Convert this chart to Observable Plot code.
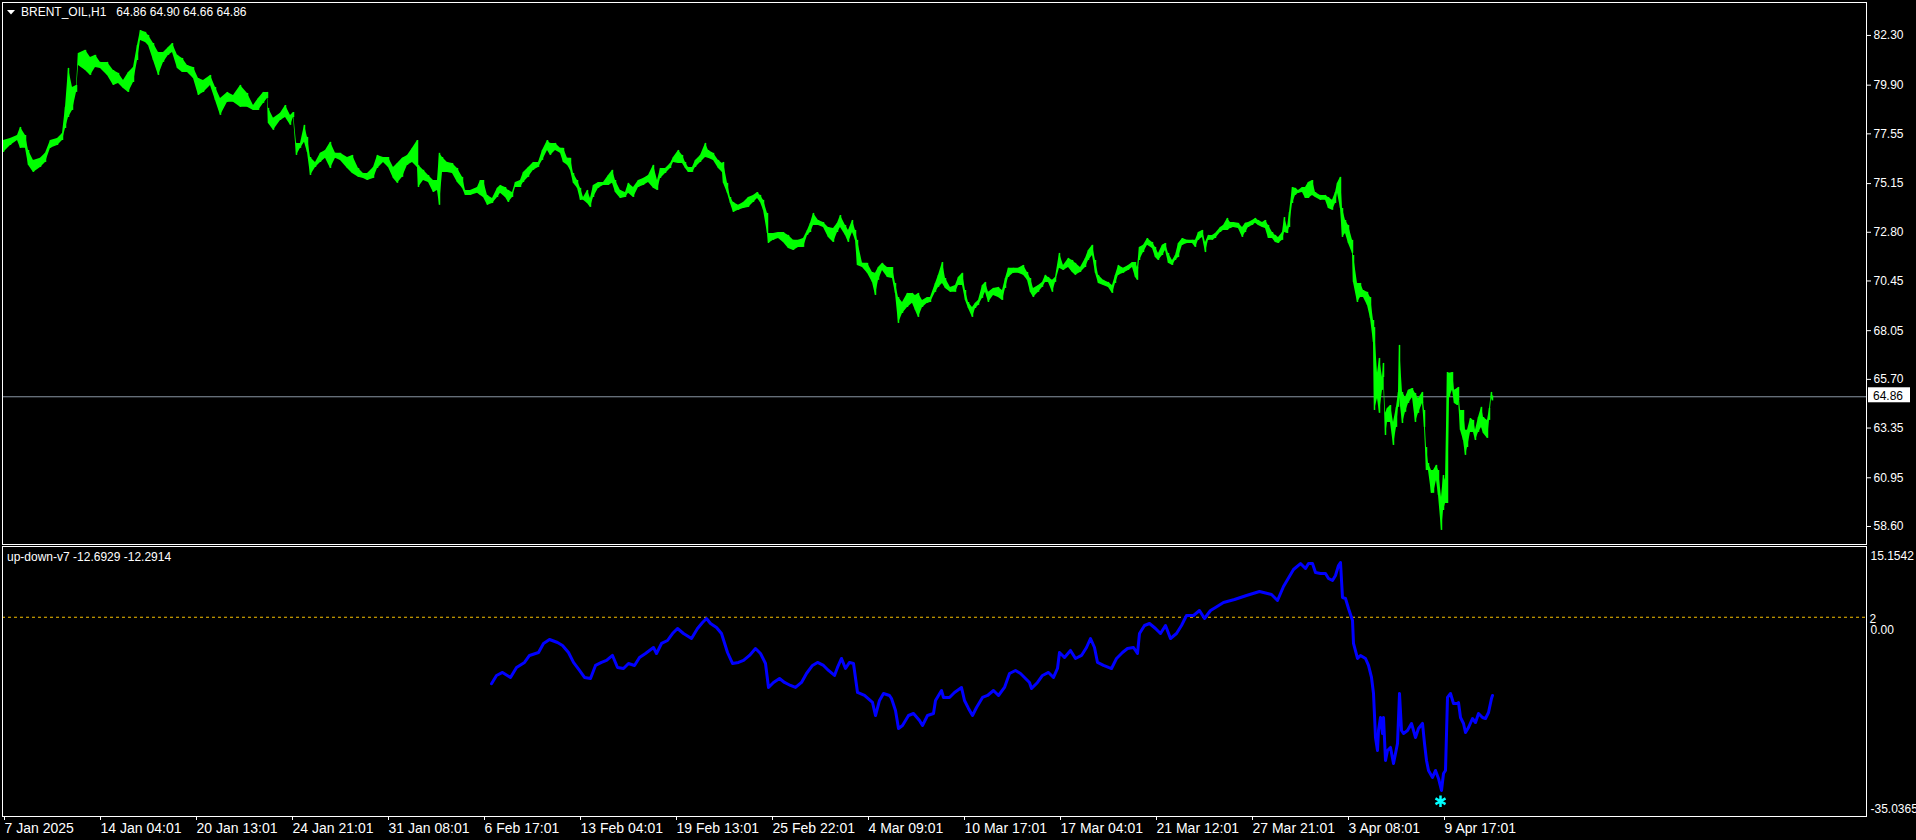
<!DOCTYPE html>
<html>
<head>
<meta charset="utf-8">
<script src="https://cdn.jsdelivr.net/npm/d3@7"></script>
<script src="https://cdn.jsdelivr.net/npm/@observablehq/plot@0.6"></script>
<style>
  html, body { margin: 0; padding: 0; background: #000; }
  #chart { position: relative; width: 1916px; height: 840px; background: #000; overflow: hidden; }
  #chart svg { display: block; }
</style>
</head>
<body>
<div id="chart"></div>
<script>
// ---------------- data ----------------
const symbolName = "BRENT_OIL";
const timeframe = "H1";
const lastOHLC = [64.86, 64.90, 64.66, 64.86];
const lastPrice = 64.86;

const priceTicks = [82.30, 79.90, 77.55, 75.15, 72.80, 70.45, 68.05, 65.70, 63.35, 60.95, 58.60];

const timeTickBars = [0, 96, 192, 288, 384, 480, 576, 672, 768, 864, 960, 1056, 1152, 1248, 1344, 1440];
const timeLabels = ["7 Jan 2025", "14 Jan 04:01", "20 Jan 13:01", "24 Jan 21:01", "31 Jan 08:01", "6 Feb 17:01",
  "13 Feb 04:01", "19 Feb 13:01", "25 Feb 22:01", "4 Mar 09:01", "10 Mar 17:01", "17 Mar 04:01",
  "21 Mar 12:01", "27 Mar 21:01", "3 Apr 08:01", "9 Apr 17:01"];

// hourly bar index, bar high, bar low (sampled along the chart)
const priceBar = [
  0,7,14,17,22,25,30,37,42,47,
  54,59,62,65,69,73,75,82,87,92,
  97,104,110,115,120,125,130,134,137,142,
  145,150,155,160,165,169,174,179,184,190,
  195,200,207,212,217,224,230,237,244,250,
  255,260,264,265,270,277,282,287,290,293,
  297,301,304,307,312,317,322,327,332,337,
  344,349,355,360,364,370,374,380,385,390,
  394,399,404,409,414,415,420,425,430,434,
  436,439,444,449,454,459,462,467,474,477,
  480,484,489,494,497,502,505,509,512,517,
  520,525,530,535,539,544,547,552,557,560,
  564,567,570,574,577,580,584,587,590,595,
  600,605,609,612,617,622,625,630,635,640,
  645,650,654,657,662,667,670,675,679,682,
  685,689,692,697,702,705,710,715,719,720,
  724,727,730,735,740,745,750,754,757,760,
  764,765,770,775,780,785,790,795,800,804,
  807,810,815,820,825,830,834,837,842,845,
  849,852,854,859,864,869,872,875,879,884,
  889,892,895,899,904,909,912,915,919,924,
  927,932,935,939,942,947,952,955,959,962,
  965,969,972,975,979,982,985,990,995,999,
  1002,1005,1010,1015,1020,1024,1027,1030,1035,1039,
  1042,1045,1049,1052,1056,1060,1065,1069,1072,1077,
  1082,1085,1089,1092,1095,1100,1105,1109,1112,1115,
  1120,1125,1129,1132,1134,1136,1140,1144,1149,1152,
  1155,1159,1162,1165,1169,1172,1175,1179,1184,1189,
  1192,1195,1199,1202,1205,1209,1212,1217,1220,1224,
  1227,1230,1235,1239,1242,1245,1249,1252,1255,1259,
  1262,1265,1269,1272,1275,1279,1281,1284,1286,1289,
  1292,1295,1299,1302,1305,1309,1312,1317,1322,1325,
  1329,1332,1334,1337,1339,1342,1345,1349,1350,1354,
  1357,1360,1364,1367,1370,1371,1374,1376,1379,1380,
  1382,1384,1387,1390,1393,1395,1396,1399,1402,1405,
  1409,1412,1415,1419,1421,1423,1425,1428,1430,1433,
  1435,1438,1440,1442,1444,1446,1449,1451,1454,1455,
  1457,1460,1462,1464,1467,1470,1472,1475,1478,1480,
  1484,1486,1488,1489
];
const priceHigh = [
  77.23,77.33,77.47,77.86,77.47,76.75,76.27,76.37,76.61,77.23,
  77.33,77.57,78.83,80.71,79.79,79.89,81.43,81.58,81.24,81.34,
  81.00,81.00,80.61,80.47,80.13,80.51,80.75,81.82,82.54,82.45,
  82.30,81.91,81.48,81.48,81.72,81.91,81.34,81.19,80.85,80.75,
  80.22,80.13,80.37,79.79,79.26,79.55,79.40,79.89,79.50,78.92,
  79.26,79.55,79.55,78.78,78.30,78.54,78.92,78.44,78.58,77.09,
  77.09,77.96,77.38,76.41,76.17,76.61,76.75,77.14,76.61,76.61,
  76.41,76.51,75.88,75.64,75.64,75.93,76.51,76.41,76.41,75.93,
  76.12,76.37,76.51,76.85,77.23,76.03,75.79,75.54,75.30,75.30,
  76.61,76.41,76.17,76.12,75.88,75.45,74.82,74.82,74.96,75.30,
  75.30,74.58,74.43,74.92,75.06,74.96,74.82,74.72,75.20,75.30,
  75.69,75.93,76.17,76.17,76.75,77.23,77.09,77.09,76.85,76.85,
  76.37,76.37,75.64,75.30,74.92,74.48,74.82,74.43,75.06,75.20,
  75.20,75.54,75.79,75.30,74.82,74.72,75.16,74.96,75.30,75.40,
  75.54,76.03,75.30,75.88,75.88,76.12,76.41,76.75,76.51,76.17,
  75.93,75.93,76.27,76.51,77.09,76.75,76.61,76.27,76.12,76.17,
  75.16,74.48,74.24,74.10,74.24,74.48,74.58,74.72,74.58,74.34,
  73.71,72.74,72.74,72.79,72.79,72.65,72.41,72.41,72.50,72.89,
  73.23,73.71,73.37,73.27,73.03,72.98,73.23,73.61,73.13,72.89,
  73.37,72.89,72.41,71.30,71.30,70.86,70.82,71.10,71.30,71.10,
  71.10,70.33,69.65,69.41,69.85,69.85,69.75,69.85,69.51,69.65,
  69.65,70.33,70.72,71.34,70.57,70.14,70.23,70.62,70.82,69.99,
  69.41,69.17,69.37,69.51,70.23,70.38,69.90,70.09,70.14,69.99,
  70.57,71.06,71.06,71.06,71.20,70.86,70.57,70.09,70.23,70.38,
  70.72,70.62,70.48,70.62,71.78,71.20,71.54,71.44,71.30,71.10,
  71.54,71.92,72.17,71.44,70.72,70.48,70.38,70.23,70.72,71.20,
  71.06,71.20,71.34,71.34,71.10,72.07,72.17,72.50,72.31,72.07,
  71.78,72.17,72.26,71.78,71.44,71.68,72.26,72.50,72.41,72.41,
  72.41,72.79,72.89,72.31,72.65,72.65,72.74,73.03,73.13,73.47,
  73.27,73.27,73.23,73.03,73.23,73.27,73.37,73.47,73.37,73.27,
  73.37,73.13,72.79,72.65,72.55,72.79,73.51,73.03,73.76,74.96,
  74.92,74.82,74.96,74.96,75.20,75.30,74.72,74.58,74.58,74.48,
  74.34,74.72,75.16,75.45,73.95,73.37,73.13,72.41,71.68,70.33,
  70.33,69.99,69.90,69.65,68.54,68.20,65.99,66.71,65.79,66.47,
  64.06,64.30,64.44,63.62,64.35,65.07,67.34,65.07,64.83,65.17,
  65.26,65.02,64.78,65.07,64.20,62.41,61.64,61.30,61.30,61.55,
  61.30,60.00,61.06,60.82,66.03,65.99,66.03,65.17,65.26,65.31,
  64.20,64.20,63.24,63.24,63.81,63.72,63.24,63.86,64.35,63.86,
  63.72,64.30,65.07,64.90
];
const priceLow = [
  76.65,76.99,77.23,76.85,76.85,76.03,75.69,75.93,76.17,76.85,
  76.99,77.23,77.81,78.34,78.68,79.55,80.85,80.61,80.37,80.75,
  80.71,80.37,79.89,79.98,79.74,79.55,80.03,81.09,82.06,81.96,
  81.82,81.09,80.37,81.00,81.34,81.48,80.71,80.51,80.51,80.22,
  79.40,79.55,79.89,79.16,78.44,79.07,79.07,78.83,78.83,78.68,
  78.68,79.02,79.26,78.05,77.72,78.20,78.34,77.96,78.34,76.51,
  76.85,77.14,76.65,75.54,75.93,76.17,76.37,75.88,76.37,76.27,
  75.88,75.64,75.45,75.40,75.30,75.40,75.88,76.17,75.93,75.40,
  75.16,75.45,76.03,76.17,75.93,74.96,75.30,75.20,74.72,74.82,
  74.10,75.69,75.69,75.64,75.20,74.92,74.58,74.58,74.68,74.58,
  74.48,74.10,74.19,74.48,74.68,74.48,74.24,74.48,74.96,74.96,
  75.20,75.45,75.79,75.93,76.27,76.75,76.51,76.75,76.61,76.17,
  76.03,75.79,75.16,74.92,74.34,74.34,74.19,74.00,74.48,74.92,
  75.06,75.06,75.16,74.72,74.43,74.48,74.68,74.48,74.96,75.06,
  75.20,74.92,74.82,75.40,75.64,75.88,76.17,76.12,76.12,75.88,
  75.69,75.69,75.93,76.17,76.41,76.37,76.27,75.88,75.69,75.16,
  74.68,74.19,73.76,73.86,73.95,74.00,74.24,74.43,74.24,73.86,
  72.74,72.26,72.41,72.50,72.31,72.02,71.92,72.07,72.07,72.65,
  72.79,73.13,73.13,73.03,72.55,72.31,72.79,73.03,72.65,72.31,
  72.79,72.41,71.20,71.10,70.82,70.38,69.75,70.48,70.96,70.62,
  70.57,69.85,68.40,68.88,69.17,69.37,69.03,68.69,69.17,69.37,
  69.41,69.90,70.14,70.33,70.09,69.90,69.90,70.23,70.23,69.51,
  69.12,68.69,69.12,69.27,69.61,69.90,69.41,69.75,69.65,69.51,
  70.09,70.62,70.82,70.82,70.72,70.48,69.90,69.65,69.90,70.14,
  70.38,70.38,69.90,70.38,71.06,70.96,71.10,70.86,70.72,70.86,
  71.10,71.44,71.68,70.82,70.33,70.23,70.14,69.85,70.33,70.72,
  70.82,70.96,71.10,70.62,70.48,71.44,71.82,72.17,72.02,71.58,
  71.44,71.68,71.92,71.30,71.20,71.44,71.58,72.17,72.26,72.26,
  72.07,72.41,72.55,71.82,72.41,72.41,72.50,72.79,72.89,72.89,
  72.98,73.03,72.98,72.55,72.79,73.03,73.13,73.23,73.13,73.03,
  72.98,72.50,72.50,72.31,72.26,72.41,72.79,72.74,73.03,74.19,
  74.58,74.68,74.72,74.43,74.43,74.58,74.48,74.34,74.34,73.95,
  73.86,74.19,74.68,73.95,72.55,72.74,72.26,71.78,70.38,69.41,
  69.65,69.65,69.27,68.64,67.48,64.20,64.78,64.06,65.17,65.79,
  62.99,63.62,63.62,62.51,63.38,64.35,64.83,63.57,64.11,64.54,
  64.83,63.62,64.06,64.54,63.38,61.30,61.30,60.20,60.20,60.82,
  60.10,58.41,59.37,59.71,59.71,64.83,65.17,64.54,64.44,64.68,
  63.24,62.75,62.03,62.41,63.14,63.14,62.75,63.14,63.38,63.09,
  62.85,63.72,64.78,64.66
];

// indicator "up-down-v7"
const indicatorName = "up-down-v7";
const indicatorLast = [-12.6929, -12.2914];
const indicatorRange = [-35.0365, 15.1542];
const indicatorLevel = 2;
const indBar = [
  488,493,499,507,513,521,526,535,540,546,
  554,559,565,570,576,581,587,592,598,603,
  609,614,620,625,631,636,642,650,653,658,
  664,669,674,680,688,694,699,703,707,713,
  718,724,729,735,740,746,752,757,762,765,
  770,776,781,787,792,798,803,809,814,820,
  825,831,834,838,842,846,850,854,861,869,
  872,876,880,886,888,892,895,899,905,910,
  916,919,924,930,932,938,940,946,951,958,
  961,965,969,973,979,984,990,995,1001,1006,
  1012,1017,1026,1028,1034,1039,1045,1050,1054,1056,
  1061,1067,1072,1078,1083,1087,1091,1094,1100,1105,
  1108,1113,1119,1124,1130,1134,1136,1141,1146,1152,
  1157,1162,1167,1173,1178,1183,1190,1196,1201,1207,
  1212,1220,1231,1243,1256,1268,1274,1280,1290,1297,
  1302,1305,1309,1312,1317,1322,1325,1329,1332,1335,
  1337,1339,1342,1345,1349,1350,1354,1357,1362,1365,
  1368,1370,1372,1374,1375,1377,1379,1380,1382,1384,
  1387,1390,1392,1394,1396,1398,1400,1404,1408,1412,
  1415,1419,1421,1423,1425,1429,1432,1435,1438,1440,
  1442,1444,1447,1450,1454,1455,1457,1460,1462,1465,
  1469,1472,1475,1479,1482,1485,1488,1489
];
const indValue = [
  -10.36,-8.82,-8.26,-9.19,-7.33,-6.40,-5.10,-4.55,-2.87,-2.13,
  -2.69,-3.25,-4.55,-6.40,-7.89,-9.19,-9.38,-6.96,-6.40,-6.03,
  -5.10,-7.33,-7.52,-6.59,-6.96,-5.48,-4.73,-3.62,-4.73,-2.87,
  -2.32,-1.02,-0.09,-1.02,-1.95,-0.09,1.03,1.77,0.84,0.10,
  -1.02,-4.55,-6.59,-6.40,-6.03,-5.10,-3.81,-4.73,-6.59,-11.05,
  -10.12,-9.38,-10.12,-10.68,-11.05,-10.12,-8.45,-6.96,-6.40,-6.96,
  -7.89,-8.82,-7.33,-5.66,-7.52,-6.40,-6.59,-11.98,-12.54,-13.84,
  -16.26,-13.47,-12.17,-12.54,-13.10,-15.33,-18.67,-18.12,-16.26,-15.89,
  -17.19,-18.12,-16.26,-15.89,-13.47,-11.61,-12.91,-12.91,-11.98,-11.05,
  -13.47,-14.95,-16.26,-14.77,-12.91,-12.54,-11.61,-12.54,-11.05,-8.45,
  -7.89,-8.45,-10.12,-11.24,-10.12,-8.82,-8.26,-9.19,-7.52,-4.55,
  -5.48,-4.17,-5.66,-5.10,-3.62,-1.95,-3.62,-6.40,-6.96,-7.33,
  -7.52,-5.66,-4.55,-3.81,-3.62,-4.73,-1.02,0.47,0.84,-0.09,
  -1.02,0.47,-1.95,-1.02,0.47,2.33,2.33,3.26,1.77,3.26,
  3.82,4.75,5.30,6.05,6.79,6.23,5.12,7.72,10.88,11.99,
  11.06,11.99,11.99,10.32,10.14,10.14,9.21,8.84,9.76,11.62,
  12.18,5.67,5.49,3.63,1.40,-2.87,-5.66,-5.10,-5.66,-6.96,
  -9.19,-12.17,-20.35,-22.76,-19.05,-16.63,-19.60,-16.63,-24.62,-22.76,
  -22.20,-25.18,-23.32,-21.46,-12.17,-19.05,-19.60,-19.05,-17.74,-20.35,
  -18.67,-17.74,-21.46,-24.62,-26.48,-27.78,-26.48,-27.97,-30.20,-27.04,
  -26.48,-12.91,-12.17,-14.03,-14.03,-13.84,-16.63,-17.74,-19.42,-18.49,
  -16.82,-17.56,-15.89,-16.63,-16.82,-15.70,-13.10,-12.54
];
const signalBar = [1437];
const signalValue = [-32.2];

// ---------------- build tables ----------------
const priceData = d3.range(Math.min(priceBar.length, priceHigh.length, priceLow.length))
  .map(i => ({bar: priceBar[i], hi: priceHigh[i], lo: priceLow[i]}));
const indData = d3.range(Math.min(indBar.length, indValue.length))
  .map(i => ({bar: indBar[i], v: indValue[i]}));
const signalData = signalBar.map((b, i) => ({bar: b, v: signalValue[i]}));
const labelOf = new Map(timeTickBars.map((b, i) => [b, timeLabels[i]]));

const FONT = "'Liberation Sans', Arial, sans-serif";
const GREEN = "#00ff00";
const xDomain = [-1, 1863];

// ---------------- main pane ----------------
const main = Plot.plot({
  width: 1916, height: 546,
  marginTop: 2, marginBottom: 2, marginLeft: 2, marginRight: 50,
  style: {background: "#000", color: "#fff", fontFamily: FONT, fontSize: "12px"},
  x: {domain: xDomain, axis: null},
  y: {domain: [57.73, 83.89], axis: null},
  marks: [
    Plot.ruleY([lastPrice], {stroke: "#8a96a4", strokeWidth: 1}),
    Plot.areaY(priceData, {x: "bar", y1: "lo", y2: "hi", fill: GREEN}),
    Plot.ruleX(priceData, {x: "bar", y1: "lo", y2: "hi", stroke: GREEN, strokeWidth: 1.5}),
    Plot.axisY(priceTicks, {anchor: "right", tickSize: 4, tickPadding: 3, tickFormat: d3.format(".2f"),
      stroke: "#fff", fill: "#fff", fontSize: 12, fontFamily: FONT, label: null}),
    Plot.frame({stroke: "#fff"})
  ]
});

// ---------------- indicator pane ----------------
const sub = Plot.plot({
  width: 1916, height: 294,
  marginTop: 0, marginBottom: 24, marginLeft: 2, marginRight: 50,
  style: {background: "#000", color: "#fff", fontFamily: FONT, fontSize: "12px"},
  x: {domain: xDomain, axis: null},
  y: {domain: indicatorRange, axis: null},
  marks: [
    Plot.ruleY([indicatorLevel], {stroke: "#f5c000", strokeDasharray: "3,3", strokeWidth: 1}),
    Plot.line(indData, {x: "bar", y: "v", stroke: "#0000ff", strokeWidth: 3}),
    Plot.dot(signalData, {x: "bar", y: "v", symbol: "asterisk", r: 5.5, stroke: "#00ffff", strokeWidth: 2.5}),
    Plot.axisX(timeTickBars, {anchor: "bottom", tickSize: 4, tickPadding: 3, textAnchor: "start", dx: 1,
      tickFormat: d => labelOf.get(d), stroke: "#fff", fill: "#fff", label: null,
      fontSize: 14, fontFamily: "'Liberation Sans Narrow', 'Liberation Sans', Arial, sans-serif"}),
    Plot.text([indicatorRange[1]], {y: d => d, frameAnchor: "right", textAnchor: "start", dx: 4, dy: 10,
      text: d => d.toFixed(4), fill: "#fff", fontSize: 12}),
    Plot.text([indicatorRange[0]], {y: d => d, frameAnchor: "right", textAnchor: "start", dx: 4, dy: -7,
      text: d => d.toFixed(4), fill: "#fff", fontSize: 12}),
    Plot.text([indicatorLevel], {y: d => d, frameAnchor: "right", textAnchor: "start", dx: 3, dy: 1.5,
      text: d => String(d), fill: "#fff", fontSize: 12}),
    Plot.text([0], {y: d => d, frameAnchor: "right", textAnchor: "start", dx: 4, dy: 2,
      text: d => d.toFixed(2), fill: "#fff", fontSize: 12}),
    Plot.frame({stroke: "#fff"})
  ]
});

const chart = document.getElementById("chart");
chart.appendChild(main);
chart.appendChild(sub);

// ---------------- overlays (title, price box) ----------------
{
  const svg = d3.select(main);
  const sy = main.scale("y");
  const py = sy.apply(lastPrice);
  svg.append("path")
    .attr("d", "M7,10 L15,10 L11,14.5 Z")
    .attr("fill", "#fff");
  svg.append("text")
    .attr("text-anchor", "start")
    .attr("x", 21).attr("y", 16)
    .attr("fill", "#fff")
    .attr("font-size", 12).attr("font-family", FONT)
    .text(`${symbolName},${timeframe}\u00A0\u00A0\u00A0${lastOHLC.map(d => d.toFixed(2)).join(" ")}`);
  svg.append("rect")
    .attr("x", 1868).attr("y", py - 9).attr("width", 42).attr("height", 15)
    .attr("fill", "#fff");
  svg.append("text")
    .attr("text-anchor", "start")
    .attr("x", 1873).attr("y", py + 4)
    .attr("fill", "#000")
    .attr("font-size", 12).attr("font-family", FONT)
    .text(lastPrice.toFixed(2));
}
{
  const svg = d3.select(sub);
  svg.append("text")
    .attr("text-anchor", "start")
    .attr("x", 7).attr("y", 15)
    .attr("fill", "#fff")
    .attr("font-size", 12).attr("font-family", FONT)
    .text(`${indicatorName} ${indicatorLast.map(d => d.toFixed(4)).join(" ")}`);
}
</script>
</body>
</html>
